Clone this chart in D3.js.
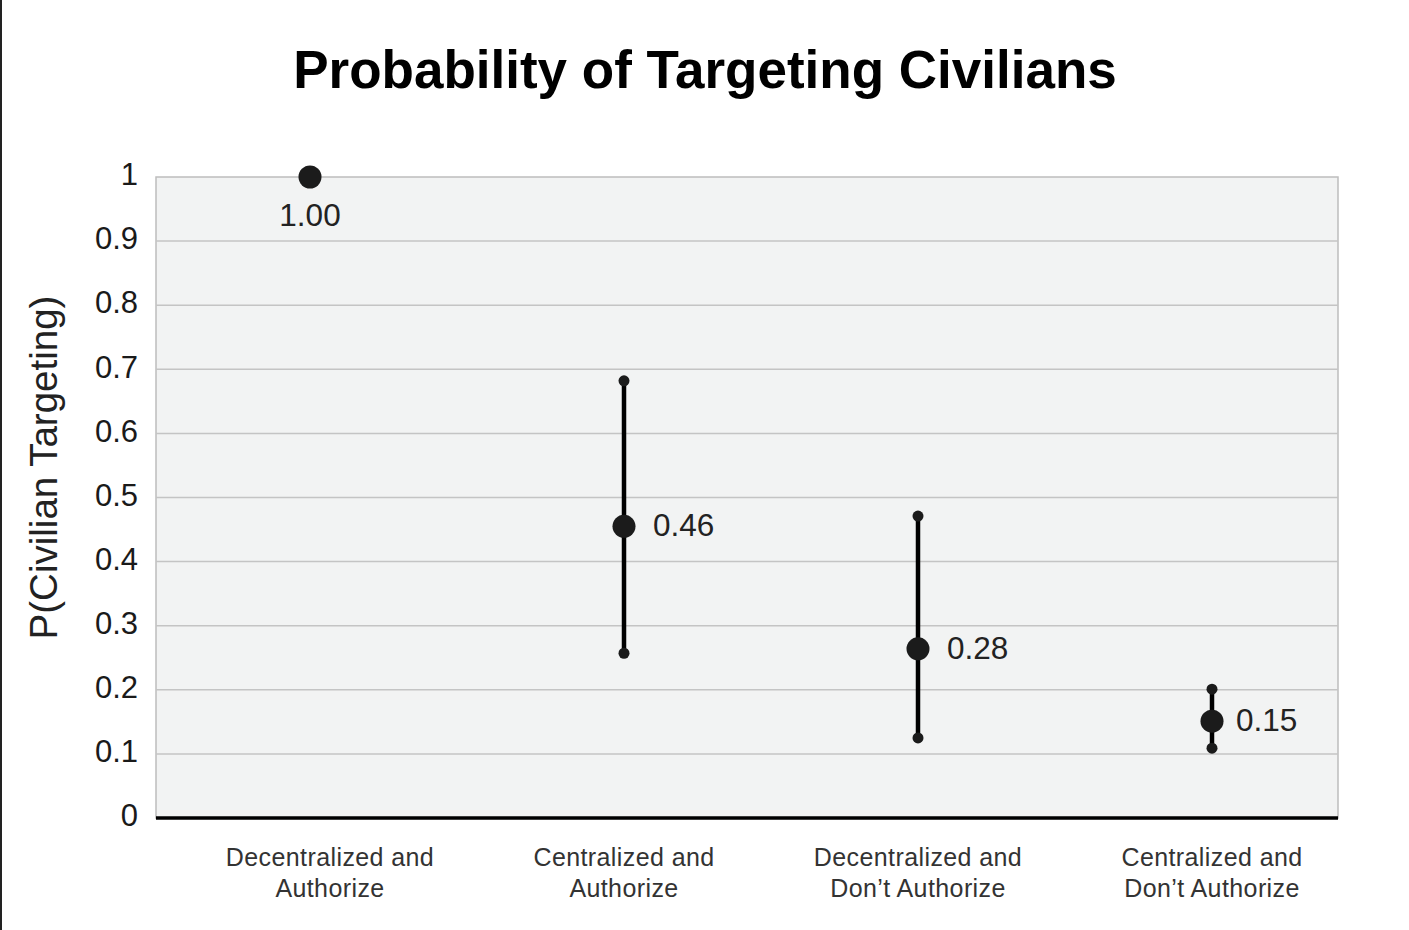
<!DOCTYPE html>
<html><head><meta charset="utf-8">
<script src="https://cdn.jsdelivr.net/npm/d3@7"></script>
<style>
html,body{margin:0;padding:0;background:#fff;}
svg{display:block;font-family:"Liberation Sans",Arial,Helvetica,sans-serif;}
</style></head>
<body>
<svg id="chart" width="1409" height="930"></svg>
<script>
const categories = [["Decentralized and","Authorize"],["Centralized and","Authorize"],["Decentralized and","Don\u2019t Authorize"],["Centralized and","Don\u2019t Authorize"]];
const estimates = [1.00, 0.455, 0.264, 0.151];
const lowerBounds = [null, 0.257, 0.125, 0.109];
const upperBounds = [null, 0.682, 0.471, 0.201];
const valueLabels = ["1.00","0.46","0.28","0.15"];
const yTicks = [0,0.1,0.2,0.3,0.4,0.5,0.6,0.7,0.8,0.9,1];
const yTickLabels = ["0","0.1","0.2","0.3","0.4","0.5","0.6","0.7","0.8","0.9","1"];

const svg = d3.select("#chart");
const plot = {left:156, right:1338, top:177, bottom:818};

// left page border
svg.append("line").attr("x1",1).attr("x2",1).attr("y1",0).attr("y2",930)
  .attr("stroke","#222").attr("stroke-width",2);

const y = d3.scaleLinear().domain([0,1]).range([plot.bottom, plot.top]);
const idx = categories.map((d,i)=>i);
const x = d3.scalePoint().domain(idx).range([330,1212]);

// background
svg.append("rect").attr("x",plot.left).attr("y",plot.top)
  .attr("width",plot.right-plot.left).attr("height",plot.bottom-plot.top)
  .attr("fill","#f2f3f3").attr("stroke","#bdbdbd").attr("stroke-width",1.5);

// gridlines
svg.append("g").selectAll("line").data(yTicks.filter(t=>t>0 && t<1)).join("line")
  .attr("x1",plot.left).attr("x2",plot.right)
  .attr("y1",d=>y(d)).attr("y2",d=>y(d))
  .attr("stroke","#c4c4c4").attr("stroke-width",1.5);

// y axis tick labels
const yAxis = d3.axisLeft(y).tickValues(yTicks).tickFormat((d,i)=>yTickLabels[i]).tickSize(0).tickPadding(18);
const ga = svg.append("g").attr("transform",`translate(${plot.left},0)`).call(yAxis);
ga.select(".domain").remove();
ga.selectAll("text").attr("font-size",31).attr("fill","#1a1a1a")
  .attr("font-family","'Liberation Sans',Arial,sans-serif").attr("dy","0.25em");

// x axis baseline
svg.append("line").attr("x1",plot.left).attr("x2",plot.right)
  .attr("y1",y(0)).attr("y2",y(0)).attr("stroke","#000").attr("stroke-width",3.5);

// category labels
const cl = svg.append("g").selectAll("text").data(categories).join("text")
  .attr("x",(d,i)=>x(i)).attr("y",866).attr("text-anchor","middle")
  .attr("font-size",25).attr("fill","#333").attr("letter-spacing","0.4");
cl.append("tspan").attr("x",(d,i)=>x(i)).attr("dy",0).text(d=>d[0]);
cl.append("tspan").attr("x",(d,i)=>x(i)).attr("dy",31).text(d=>d[1]);

// y title
svg.append("text").attr("transform",`translate(57,${(295+640)/2}) rotate(-90)`)
  .attr("text-anchor","middle").attr("font-size",38.5).attr("fill","#222")
  .text("P(Civilian Targeting)");

// title
svg.append("text").attr("x",705).attr("y",88).attr("text-anchor","middle")
  .attr("font-size",53).attr("font-weight","bold").attr("fill","#000")
  .text("Probability of Targeting Civilians");

// points
const data = estimates.map((v,i)=>({i,v,lo:lowerBounds[i],hi:upperBounds[i],lab:valueLabels[i]}));
// a point without interval sits slightly left, label below
const px = d => d.lo==null ? x(d.i)-20 : x(d.i);
const g = svg.append("g");
const withCI = data.filter(d=>d.lo!=null);
g.selectAll("line.ci").data(withCI).join("line").attr("class","ci")
  .attr("x1",px).attr("x2",px).attr("y1",d=>y(d.lo)).attr("y2",d=>y(d.hi))
  .attr("stroke","#000").attr("stroke-width",4.5);
g.selectAll("circle.lo").data(withCI).join("circle").attr("class","lo")
  .attr("cx",px).attr("cy",d=>y(d.lo)).attr("r",5.5).attr("fill","#1b1b1b");
g.selectAll("circle.hi").data(withCI).join("circle").attr("class","hi")
  .attr("cx",px).attr("cy",d=>y(d.hi)).attr("r",5.5).attr("fill","#1b1b1b");
g.selectAll("circle.pt").data(data).join("circle").attr("class","pt")
  .attr("cx",px).attr("cy",d=>y(d.v)).attr("r",11.5).attr("fill","#1b1b1b");
g.selectAll("text.val").data(data).join("text").attr("class","val")
  .attr("x",d=>d.lo==null ? px(d) : px(d)+(d.hi-d.lo<0.15 ? 24 : 29))
  .attr("y",d=>d.lo==null ? y(d.v)+49 : y(d.v)+10)
  .attr("text-anchor",d=>d.lo==null?"middle":"start")
  .attr("font-size",31.5).attr("fill","#222").text(d=>d.lab);
</script>
</body></html>
